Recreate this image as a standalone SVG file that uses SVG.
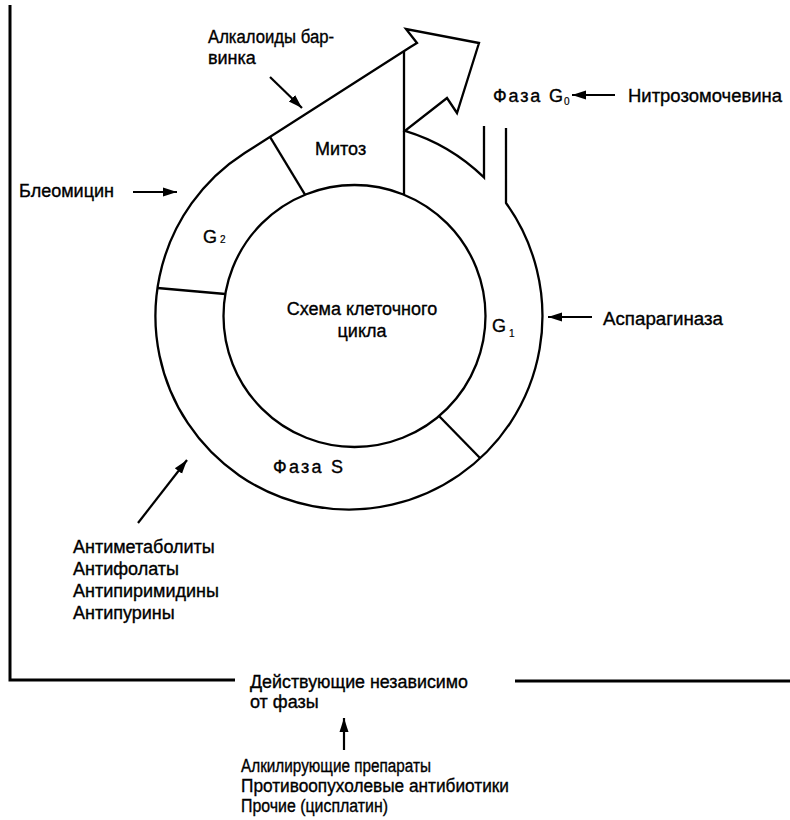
<svg xmlns="http://www.w3.org/2000/svg" width="790" height="820" viewBox="0 0 790 820">
  <style>
    .ln { fill: none; stroke: #000; stroke-width: 2.3; stroke-linejoin: miter; }
    .ax { fill: none; stroke: #000; stroke-width: 3; }
    .cn { fill: none; stroke: #000; stroke-width: 2.2; }
    text { font-family: "Liberation Sans", Arial, sans-serif; font-size: 18px; fill: #000; stroke: #000; stroke-width: 0.35; }
    .sub { font-size: 10px; stroke-width: 0.2; }
  </style>
  <defs>
    <marker id="ah" markerUnits="userSpaceOnUse" markerWidth="15" markerHeight="11" refX="14" refY="5.5" orient="auto">
      <path d="M0,1 L14,5.5 L0,10 z" fill="#000"/>
    </marker>
  </defs>

  <rect width="790" height="820" fill="#fff"/>

  <!-- frame: phase-specific zone above, phase-independent below -->
  <g id="axes">
    <path class="ax" d="M10,5 V680 H235"/>
    <path class="ax" d="M515,681 H790"/>
  </g>

  <!-- cell cycle ring -->
  <g id="cycle">
    <circle id="inner" class="ln" cx="354.5" cy="316" r="131"/>
    <!-- outer contour: G0 exit channel, full ring, tangent leading into the mitosis arrow -->
    <path id="outer" class="ln" d="M506,128 L506,203 A193.5,193.5 0 1 1 244.7,153 L410,47.2 L417,43 L406,29 L479,43 L457,113 L447,98 L405,130.8 A193.5,193.5 0 0 1 484,177.4 L484,126"/>
    <!-- phase boundaries -->
    <line id="b-m-g2" class="ln" x1="270" y1="136.8" x2="305" y2="194.7"/>
    <line id="b-m-g1" class="ln" x1="404" y1="51" x2="404" y2="194.7"/>
    <line id="b-g2-s" class="ln" x1="157.5" y1="288" x2="225.4" y2="294"/>
    <line id="b-s-g1" class="ln" x1="439" y1="416" x2="480" y2="458"/>
  </g>

  <g id="phase-m"><text x="315" y="155">Митоз</text></g>
  <g id="phase-g2"><text x="203" y="243">G</text><text class="sub" x="220" y="243">2</text></g>
  <g id="phase-g1"><text x="492" y="332">G</text><text class="sub" x="509" y="337">1</text></g>
  <g id="phase-s"><text x="273" y="473" textLength="70" lengthAdjust="spacing">Фаза S</text></g>
  <g id="phase-g0"><text x="493" y="102" textLength="70" lengthAdjust="spacing">Фаза G</text><text class="sub" x="564" y="105">0</text></g>
  <g id="center">
    <text x="362" y="315" text-anchor="middle">Схема клеточного</text>
    <text x="362" y="337" text-anchor="middle">цикла</text>
  </g>

  <!-- drug classes -->
  <g id="drug-vinca">
    <text x="208" y="43" textLength="126" lengthAdjust="spacingAndGlyphs">Алкалоиды бар-</text>
    <text x="208" y="64">винка</text>
  </g>
  <g id="drug-bleomycin"><text x="19" y="197" textLength="95" lengthAdjust="spacingAndGlyphs">Блеомицин</text></g>
  <g id="drug-nitrosourea"><text x="628" y="102" textLength="154" lengthAdjust="spacingAndGlyphs">Нитрозомочевина</text></g>
  <g id="drug-asparaginase"><text x="603" y="325" textLength="120" lengthAdjust="spacingAndGlyphs">Аспарагиназа</text></g>
  <g id="drug-antimetabolites">
    <text x="73" y="553">Антиметаболиты</text>
    <text x="73" y="575">Антифолаты</text>
    <text x="73" y="597">Антипиримидины</text>
    <text x="73" y="619">Антипурины</text>
  </g>
  <g id="phase-independent">
    <text x="250" y="688" textLength="218" lengthAdjust="spacingAndGlyphs">Действующие независимо</text>
    <text x="250" y="708">от фазы</text>
  </g>
  <g id="drug-other">
    <text x="241" y="772" textLength="190" lengthAdjust="spacingAndGlyphs">Алкилирующие препараты</text>
    <text x="241" y="792" textLength="268" lengthAdjust="spacingAndGlyphs">Противоопухолевые антибиотики</text>
    <text x="241" y="812" textLength="147" lengthAdjust="spacingAndGlyphs">Прочие (цисплатин)</text>
  </g>

  <g id="connectors">
    <line class="cn" x1="270" y1="77" x2="302" y2="108" marker-end="url(#ah)"/>
    <line class="cn" x1="133" y1="192" x2="177" y2="192" marker-end="url(#ah)"/>
    <line class="cn" x1="615" y1="95" x2="572" y2="95" marker-end="url(#ah)"/>
    <line class="cn" x1="592" y1="317" x2="548" y2="317" marker-end="url(#ah)"/>
    <line class="cn" x1="138" y1="523" x2="187" y2="460" marker-end="url(#ah)"/>
    <line class="cn" x1="344" y1="750" x2="344" y2="718" marker-end="url(#ah)"/>
  </g>
</svg>
